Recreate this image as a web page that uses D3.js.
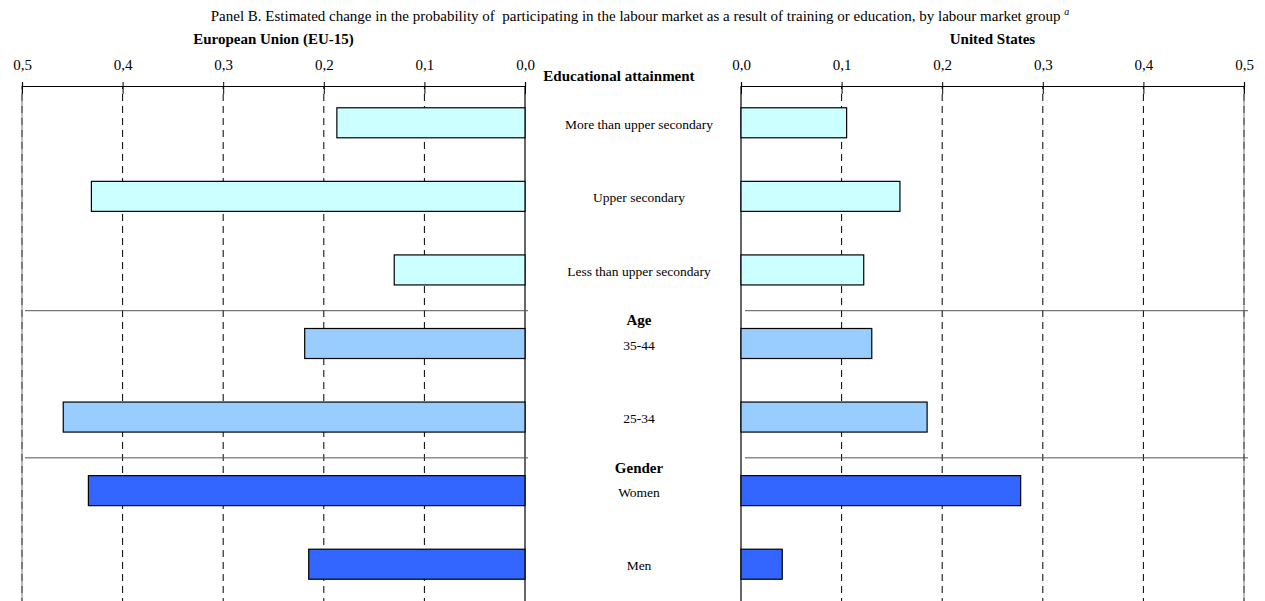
<!DOCTYPE html>
<html lang="en">
<head>
<meta charset="UTF-8">
<title>Panel B</title>
<script src="https://cdnjs.cloudflare.com/ajax/libs/d3/7.8.5/d3.min.js"></script>
<style>
  body { margin: 0; background: #fff; }
  svg text { font-family: "Liberation Serif", "Times New Roman", serif; fill: #000; }
</style>
</head>
<body>
<div id="chart"></div>
<script>
// data
const categories = ["More than upper secondary", "Upper secondary", "Less than upper secondary",
                    "35-44", "25-34", "Women", "Men"];
const groups = ["edu", "edu", "edu", "age", "age", "gender", "gender"];
const euValues = [0.187, 0.431, 0.130, 0.219, 0.459, 0.434, 0.215];
const usValues = [0.105, 0.158, 0.122, 0.130, 0.185, 0.278, 0.041];
const tickValues = [0, 0.1, 0.2, 0.3, 0.4, 0.5];
const sections = [
  { name: "Educational attainment", first: "More than upper secondary" },
  { name: "Age", first: "35-44" },
  { name: "Gender", first: "Women" }
];
const groupColor = { edu: "#ccffff", age: "#99ccff", gender: "#3366ff" };

const width = 1265, height = 601;
const axisY = 86;

const svg = d3.select("#chart").append("svg")
  .attr("width", width).attr("height", height);

const y = d3.scaleBand()
  .domain(categories)
  .range([axisY, height])
  .paddingInner(0.592)
  .paddingOuter(0.296);

const xLeft = d3.scaleLinear().domain([0, 0.5]).range([525, 22]);
const xRight = d3.scaleLinear().domain([0, 0.5]).range([741, 1244]);

const fmt = d => d3.format(".1f")(d).replace(".", ",");

// title
const title = svg.append("text")
  .attr("x", 640).attr("y", 21)
  .attr("text-anchor", "middle")
  .attr("font-size", "15px");
title.append("tspan").text("Panel B. Estimated change in the probability of \u00a0participating in the labour market as a result of training or education, by labour market group ");
title.append("tspan").text("a")
  .attr("font-style", "italic").attr("font-size", "10px").attr("dy", "-6");

function drawPanel(x, values, label) {
  const g = svg.append("g");

  svg.append("text")
    .attr("x", (x(0) + x(0.5)) / 2).attr("y", 44)
    .attr("text-anchor", "middle")
    .attr("font-size", "15px").attr("font-weight", "bold")
    .text(label);

  // dashed grid lines
  g.selectAll(".grid")
    .data(tickValues.filter(d => d > 0))
    .join("line")
    .attr("x1", d => x(d)).attr("x2", d => x(d))
    .attr("y1", axisY).attr("y2", height)
    .attr("stroke", "#000").attr("stroke-width", 1)
    .attr("stroke-dasharray", "7,5")
    .attr("stroke-dashoffset", -8);

  // solid edge lines
  g.append("line")
    .attr("x1", x(0)).attr("x2", x(0))
    .attr("y1", axisY).attr("y2", height)
    .attr("stroke", "#000").attr("stroke-width", 1.2);
  g.append("line")
    .attr("x1", x(0.5)).attr("x2", x(0.5))
    .attr("y1", axisY).attr("y2", height)
    .attr("stroke", "#777").attr("stroke-width", 1);

  // separators between groups
  const step = y.step();
  ["35-44", "Women"].forEach(c => {
    const sy = y(c) - (step - y.bandwidth()) / 2 + 4;
    g.append("line")
      .attr("x1", x(0.5) + (x === xLeft ? 3 : 4)).attr("x2", x(0) + (x === xLeft ? 3 : 4))
      .attr("y1", sy).attr("y2", sy)
      .attr("stroke", "#555").attr("stroke-width", 1);
  });

  // bars
  g.selectAll(".bar")
    .data(categories.map((c, i) => ({ c, v: values[i], grp: groups[i] })))
    .join("rect")
    .attr("x", d => Math.min(x(0), x(d.v)))
    .attr("width", d => Math.abs(x(d.v) - x(0)))
    .attr("y", d => y(d.c))
    .attr("height", y.bandwidth())
    .attr("fill", d => groupColor[d.grp])
    .attr("stroke", "#000").attr("stroke-width", 1.2);

  // top axis
  const axis = svg.append("g")
    .attr("transform", `translate(0,${axisY})`)
    .call(d3.axisTop(x).tickValues(tickValues).tickFormat(fmt).tickSize(4).tickPadding(12));
  axis.select(".domain").attr("stroke-width", 1.2);
  axis.selectAll(".tick line").attr("y2", 8).attr("y1", -4);
  axis.selectAll(".tick text").attr("font-size", "15px")
    .attr("font-family", "Liberation Serif, Times New Roman, serif");
}

drawPanel(xLeft, euValues, "European Union (EU-15)");
drawPanel(xRight, usValues, "United States");

// center labels
const midX = (xLeft(0) + xRight(0)) / 2 + 6;
svg.append("g").selectAll("text")
  .data(categories)
  .join("text")
  .attr("x", midX)
  .attr("y", d => y(d) + y.bandwidth() / 2 + 6)
  .attr("text-anchor", "middle")
  .attr("font-size", "13.5px")
  .text(d => d);

svg.append("g").selectAll("text")
  .data(sections)
  .join("text")
  .attr("x", (d, i) => i === 0 ? midX - 20 : midX)
  .attr("y", (d, i) => i === 0 ? axisY - 5 : y(d.first) - 3)
  .attr("text-anchor", "middle")
  .attr("font-size", "15px").attr("font-weight", "bold")
  .text(d => d.name);
</script>
</body>
</html>
